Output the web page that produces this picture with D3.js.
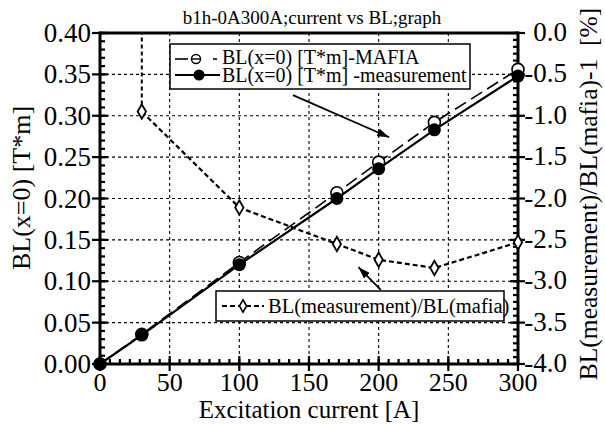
<!DOCTYPE html>
<html><head><meta charset="utf-8">
<script src="https://cdn.jsdelivr.net/npm/d3@7"></script>
<style>body{margin:0;background:#fff}svg{display:block}</style>
</head><body>
<svg id="c" width="605" height="424"></svg>
<script>
// ---- data ----
const current = [0, 30, 100, 170, 200, 240, 300];
const blMafia = [0, 0.036, 0.1226, 0.207, 0.244, 0.292, 0.356];
const blMeas  = [0, 0.035, 0.120, 0.200, 0.236, 0.283, 0.348];
const ratioCurrent = [30, 100, 170, 200, 240, 300];
const ratioPct = [-0.95, -2.11, -2.55, -2.74, -2.84, -2.53];
const xTicks = [0, 50, 100, 150, 200, 250, 300];
const yLeftTicks = [0, 0.05, 0.10, 0.15, 0.20, 0.25, 0.30, 0.35, 0.40];
const yRightTicks = [-4.0, -3.5, -3.0, -2.5, -2.0, -1.5, -1.0, -0.5, 0.0];
const titleText = "b1h-0A300A;current vs BL;graph";
const xTitle = "Excitation current [A]";
const yLeftTitle = "BL(x=0) [T*m]";
const yRightTitle = "BL(measurement)/BL(mafia)-1\u00a0\u00a0[%]";
const legendMafia = "BL(x=0) [T*m]-MAFIA";
const legendMeas = "BL(x=0) [T*m] -measurement";
const legendRatio = "BL(measurement)/BL(mafia)";

const FONT = "'Liberation Serif','Times New Roman',serif";
const L = 100, R = 518, T = 33, B = 364;
const svg = d3.select("#c");
const x = d3.scaleLinear().domain([0, 300]).range([L, R]);
const y = d3.scaleLinear().domain([0, 0.40]).range([B, T]);
const yR = d3.scaleLinear().domain([-4.0, 0.0]).range([B, T]);

// grid
const g = svg.append("g");
g.selectAll(".gx").data(xTicks.filter(v => v > 0 && v < 300)).join("line")
  .attr("x1", d => x(d)).attr("x2", d => x(d)).attr("y1", T).attr("y2", B)
  .attr("stroke", "#000").attr("stroke-width", 1.1).attr("stroke-dasharray", "3,3");
g.selectAll(".gy").data(yLeftTicks.filter(v => v > 0 && v < 0.4)).join("line")
  .attr("x1", L).attr("x2", R).attr("y1", d => y(d)).attr("y2", d => y(d))
  .attr("stroke", "#000").attr("stroke-width", 1.1).attr("stroke-dasharray", "3,3");

// axes frame
const frame = svg.append("g").attr("stroke", "#000").attr("stroke-width", 3);
frame.append("line").attr("x1", L).attr("x2", R).attr("y1", T).attr("y2", T);
frame.append("line").attr("x1", L).attr("x2", R).attr("y1", B).attr("y2", B);
frame.append("line").attr("x1", L).attr("x2", L).attr("y1", T - 1.5).attr("y2", B + 1.5);
frame.append("line").attr("x1", R).attr("x2", R).attr("y1", T - 1.5).attr("y2", B + 1.5);

// ticks
const tk = svg.append("g").attr("stroke", "#000").attr("stroke-width", 2.2);
const xMinor = d3.range(0, 300.01, 50 / 7);
tk.selectAll(".xm").data(xMinor).join("line")
  .attr("x1", d => x(d)).attr("x2", d => x(d)).attr("y1", B).attr("y2", B - 5);
tk.selectAll(".xM").data(xTicks).join("line")
  .attr("x1", d => x(d)).attr("x2", d => x(d)).attr("y1", B + 7).attr("y2", B - 8);
const yMinor = d3.range(0, 0.4001, 0.01);
tk.selectAll(".ym").data(yMinor).join("line")
  .attr("x1", L).attr("x2", L + 5).attr("y1", d => y(d)).attr("y2", d => y(d));
tk.selectAll(".yM").data(yLeftTicks).join("line")
  .attr("x1", L - 8).attr("x2", L + 8).attr("y1", d => y(d)).attr("y2", d => y(d));
const rMinor = d3.range(-4.0, 0.001, 0.5 / 6);
tk.selectAll(".rm").data(rMinor).join("line")
  .attr("x1", R).attr("x2", R - 5).attr("y1", d => yR(d)).attr("y2", d => yR(d));
tk.selectAll(".rM").data(yRightTicks).join("line")
  .attr("x1", R - 8).attr("x2", R + 7).attr("y1", d => yR(d)).attr("y2", d => yR(d));

// tick labels
const tl = svg.append("g").attr("font-family", FONT).attr("font-size", 27).attr("fill", "#000");
tl.selectAll(".xl").data(xTicks).join("text")
  .attr("x", d => x(d)).attr("y", B + 27).attr("font-size", 26).attr("text-anchor", "middle").text(d => d);
tl.selectAll(".yl").data(yLeftTicks).join("text")
  .attr("x", L - 9).attr("y", d => y(d) + 9).attr("text-anchor", "end").text(d => d.toFixed(2));
tl.selectAll(".rl").data(yRightTicks).join("text")
  .attr("x", 567).attr("y", d => yR(d) + 8).attr("text-anchor", "end").text(d => d.toFixed(1));

// titles
svg.append("text").attr("x", 312).attr("y", 24).attr("text-anchor", "middle")
  .attr("font-family", FONT).attr("font-size", 19).text(titleText);
svg.append("text").attr("x", 309).attr("y", 418).attr("text-anchor", "middle")
  .attr("font-family", FONT).attr("font-size", 25).text(xTitle);
svg.append("text").attr("transform", "translate(30,188) rotate(-90)").attr("text-anchor", "middle")
  .attr("font-family", FONT).attr("font-size", 26).text(yLeftTitle);
svg.append("text").attr("transform", "translate(597,194) rotate(-90)").attr("text-anchor", "middle")
  .attr("font-family", FONT).attr("font-size", 25.5).text(yRightTitle);

// ratio series
const plot = svg.append("g");
plot.append("line").attr("x1", x(ratioCurrent[0])).attr("x2", x(ratioCurrent[0]))
  .attr("y1", yR(ratioPct[0])).attr("y2", yR(0))
  .attr("stroke", "#000").attr("stroke-width", 2).attr("stroke-dasharray", "4,3");
const ratioPts = ratioCurrent.map((c, i) => [c, ratioPct[i]]);
plot.append("path").datum(ratioPts)
  .attr("d", d3.line().x(d => x(d[0])).y(d => yR(d[1])))
  .attr("fill", "none").attr("stroke", "#000").attr("stroke-width", 2.2).attr("stroke-dasharray", "5,3");
const diamond = d3.symbol().type(d3.symbolDiamond).size(60);
plot.selectAll(".dm").data(ratioPts).join("path")
  .attr("d", diamond).attr("transform", d => `translate(${x(d[0])},${yR(d[1])})`)
  .attr("fill", "#fff").attr("stroke", "#000").attr("stroke-width", 1.8);

// MAFIA series
const mafPts = current.map((c, i) => [c, blMafia[i]]);
plot.append("path").datum(mafPts)
  .attr("d", d3.line().x(d => x(d[0])).y(d => y(d[1])))
  .attr("fill", "none").attr("stroke", "#000").attr("stroke-width", 1.6).attr("stroke-dasharray", "13,6");
plot.selectAll(".om").data(mafPts).join("circle")
  .attr("cx", d => x(d[0])).attr("cy", d => y(d[1])).attr("r", 6)
  .attr("fill", "#fff").attr("stroke", "#000").attr("stroke-width", 1.6);

// measurement series
const measPts = current.map((c, i) => [c, blMeas[i]]);
plot.append("path").datum(measPts)
  .attr("d", d3.line().x(d => x(d[0])).y(d => y(d[1])))
  .attr("fill", "none").attr("stroke", "#000").attr("stroke-width", 2.2);
plot.selectAll(".fm").data(measPts).join("circle")
  .attr("cx", d => x(d[0])).attr("cy", d => y(d[1])).attr("r", 6.5)
  .attr("fill", "#000");

// legend 1
const lg1 = svg.append("g");
lg1.append("rect").attr("x", 170).attr("y", 44).attr("width", 300).attr("height", 45)
  .attr("fill", "#fff").attr("stroke", "#000").attr("stroke-width", 1.5);
lg1.append("line").attr("x1", 175).attr("x2", 188).attr("y1", 59).attr("y2", 59)
  .attr("stroke", "#000").attr("stroke-width", 1.6);
lg1.append("circle").attr("cx", 196).attr("cy", 59).attr("r", 4.5)
  .attr("fill", "none").attr("stroke", "#000").attr("stroke-width", 1.4);
lg1.append("line").attr("x1", 191.5).attr("x2", 200.5).attr("y1", 59).attr("y2", 59)
  .attr("stroke", "#000").attr("stroke-width", 1.4);
lg1.append("line").attr("x1", 213).attr("x2", 217).attr("y1", 59).attr("y2", 59)
  .attr("stroke", "#000").attr("stroke-width", 1.6);
lg1.append("line").attr("x1", 175).attr("x2", 220).attr("y1", 75).attr("y2", 75)
  .attr("stroke", "#000").attr("stroke-width", 2.2);
lg1.append("circle").attr("cx", 199).attr("cy", 75).attr("r", 5.5).attr("fill", "#000");
lg1.append("text").attr("x", 222).attr("y", 64).attr("font-family", FONT).attr("font-size", 20).text(legendMafia);
lg1.append("text").attr("x", 222).attr("y", 82).attr("font-family", FONT).attr("font-size", 20).text(legendMeas);

// legend 2
const lg2 = svg.append("g");
lg2.append("rect").attr("x", 216).attr("y", 291).attr("width", 288).attr("height", 30)
  .attr("fill", "#fff").attr("stroke", "#000").attr("stroke-width", 1.5);
lg2.append("line").attr("x1", 222).attr("x2", 264).attr("y1", 306).attr("y2", 306)
  .attr("stroke", "#000").attr("stroke-width", 2).attr("stroke-dasharray", "5,3");
lg2.append("path").attr("d", d3.symbol().type(d3.symbolDiamond).size(45))
  .attr("transform", "translate(243,306)").attr("fill", "#fff").attr("stroke", "#000").attr("stroke-width", 1.6);
lg2.append("text").attr("x", 268).attr("y", 313).attr("font-family", FONT).attr("font-size", 20.5).text(legendRatio);

// arrows (data coordinates)
const arrows = [
  { from: [138.5, 0.325], to: [207.5, 0.274] },
  { from: [201.5, 0.0895], to: [185.5, 0.117] }
];
const defs = svg.append("defs");
defs.append("marker").attr("id", "ah").attr("viewBox", "0 0 12 8").attr("refX", 12).attr("refY", 4)
  .attr("markerWidth", 12).attr("markerHeight", 8).attr("markerUnits", "userSpaceOnUse").attr("orient", "auto")
  .append("path").attr("d", "M0,0 L12,4 L0,8 Z").attr("fill", "#000");
svg.selectAll(".ar").data(arrows).join("line")
  .attr("x1", d => x(d.from[0])).attr("y1", d => y(d.from[1]))
  .attr("x2", d => x(d.to[0])).attr("y2", d => y(d.to[1]))
  .attr("stroke", "#000").attr("stroke-width", 1.8).attr("marker-end", "url(#ah)");
</script>
</body></html>
